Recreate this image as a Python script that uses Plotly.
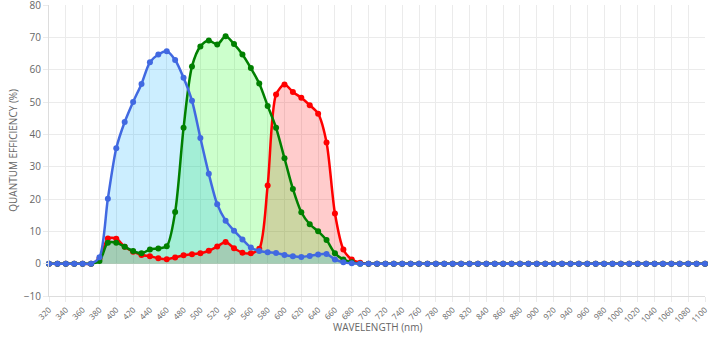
import plotly.graph_objects as go

wavelengths = list(range(320, 1101, 10))

blue = [0, 0, 0, 0, 0, 0, 2.0, 20.1, 35.7, 43.8, 50.0, 55.6, 62.3, 64.7, 65.7, 63.0,
        57.5, 50.4, 38.9, 27.8, 18.4, 13.3, 10.2, 7.5, 5.0, 3.9, 3.5, 3.3, 2.7, 2.3,
        2.1, 2.4, 2.8, 3.0, 1.3, 0.4, 0.1, 0, 0, 0,
        0, 0, 0, 0, 0, 0, 0, 0, 0, 0, 0, 0, 0, 0, 0, 0, 0, 0, 0, 0,
        0, 0, 0, 0, 0, 0, 0, 0, 0, 0, 0, 0, 0, 0, 0, 0, 0, 0, 0]

green = [0, 0, 0, 0, 0, 0, 0.8, 6.5, 6.5, 5.2, 3.9, 3.2, 4.4, 4.7, 5.4, 16.0,
         42.0, 61.0, 67.2, 69.0, 67.8, 70.3, 67.9, 64.7, 60.5, 55.7, 48.8, 42.0, 32.6, 23.1,
         15.9, 12.2, 10.0, 7.3, 3.2, 1.3, 0.4, 0, 0, 0,
         0, 0, 0, 0, 0, 0, 0, 0, 0, 0, 0, 0, 0, 0, 0, 0, 0, 0, 0, 0,
         0, 0, 0, 0, 0, 0, 0, 0, 0, 0, 0, 0, 0, 0, 0, 0, 0, 0, 0]

red = [0, 0, 0, 0, 0, 0, 1.5, 7.8, 7.7, 5.2, 3.7, 2.7, 2.3, 1.7, 1.4, 1.9,
       2.6, 2.9, 3.2, 4.0, 5.3, 6.7, 4.8, 3.4, 3.2, 4.6, 24.2, 52.3, 55.4, 53.1,
       51.3, 49.0, 46.4, 37.5, 15.5, 4.4, 1.3, 0.3, 0, 0,
       0, 0, 0, 0, 0, 0, 0, 0, 0, 0, 0, 0, 0, 0, 0, 0, 0, 0, 0, 0,
       0, 0, 0, 0, 0, 0, 0, 0, 0, 0, 0, 0, 0, 0, 0, 0, 0, 0, 0]

y_ticks = [-10, 0, 10, 20, 30, 40, 50, 60, 70, 80]
x_ticks = list(range(320, 1101, 20))

series = [
    ("Red", red, "#ff0000", "rgba(255,0,0,0.2)"),
    ("Green", green, "#008000", "rgba(0,255,0,0.2)"),
    ("Blue", blue, "#4169e1", "rgba(0,170,255,0.2)"),
]

SMOOTH = 0.8
fig = go.Figure()
# fills first (beneath all lines)
for name, vals, lc, fc in series:
    fig.add_trace(go.Scatter(
        x=wavelengths, y=vals, name=name + " fill", mode="lines",
        line=dict(color="rgba(0,0,0,0)", width=0, shape="spline", smoothing=SMOOTH),
        fill="tozeroy", fillcolor=fc, hoverinfo="skip",
    ))
# lines and markers on top
for name, vals, lc, fc in series:
    fig.add_trace(go.Scatter(
        x=wavelengths, y=vals, name=name, mode="lines+markers",
        line=dict(color=lc, width=2.5, shape="spline", smoothing=SMOOTH),
        marker=dict(color=lc, size=6),
        cliponaxis=False,
    ))

font_family = "Open Sans, Lato, sans-serif"
fig.update_layout(
    width=710, height=355,
    margin=dict(l=49, r=5, t=5, b=59),
    paper_bgcolor="white", plot_bgcolor="white",
    showlegend=False,
    font=dict(family=font_family, color="#666666", size=10),
    annotations=[
        dict(text="WAVELENGTH (nm)", xref="paper", yref="paper", x=0.5, y=-0.106,
             showarrow=False, font=dict(size=10, color="#666666"),
             xanchor="center", yanchor="middle"),
        dict(text="QUANTUM EFFICIENCY (%)", xref="paper", yref="paper", x=-0.056, y=0.5,
             textangle=-90, showarrow=False,
             font=dict(size=10, color="#666666"), xanchor="center", yanchor="middle"),
    ],
)
fig.update_xaxes(
    range=[320, 1100], tickvals=x_ticks, ticktext=[str(v) for v in x_ticks],
    tickangle=-45, tickfont=dict(size=8, color="#666666"),
    showgrid=True, gridcolor="#ebebeb", gridwidth=1,
    showline=True, linecolor="#dddddd", linewidth=1,
    ticks="outside", ticklen=5, tickcolor="#ebebeb",
    zeroline=False, automargin=False, ticklabeloverflow="allow",
)
fig.update_yaxes(
    range=[-10, 80], tickvals=y_ticks,
    tickfont=dict(size=10, color="#666666"),
    showgrid=True, gridcolor="#ebebeb", gridwidth=1,
    showline=True, linecolor="#dddddd", linewidth=1,
    ticks="outside", ticklen=5, tickcolor="#ebebeb",
    zeroline=False, automargin=False, ticklabeloverflow="allow",
)

fig.write_html("out.html", config={"displayModeBar": False},
               post_script="document.body.style.margin='0px';")
